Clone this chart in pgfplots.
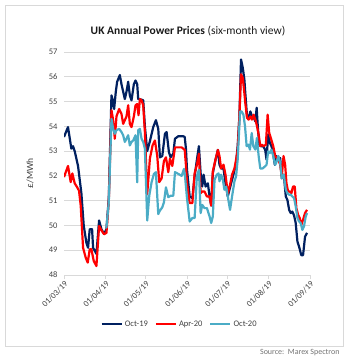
\documentclass[border=0pt]{standalone}
\usepackage{pgfplots}
\pgfplotsset{compat=1.18}
\usepackage{fontspec}
\setmainfont{Carlito}
\definecolor{navy}{HTML}{002060}
\definecolor{lblue}{HTML}{4BACC6}
\definecolor{txtgray}{HTML}{404040}
\definecolor{gridgray}{HTML}{D9D9D9}
\begin{document}
\begin{tikzpicture}[x=1pt,y=1pt]
\useasboundingbox (0,0) rectangle (350,361);
\draw[gridgray, line width=0.8pt] (5,15) rectangle (343,356);
\node[font=\fontsize{11.5}{13}\selectfont, text=black!90] at (188,330) {\textbf{UK Annual Power Prices} (six-month view)};
\node[font=\fontsize{8}{9}\selectfont, text=black!55, anchor=east] at (343,8) {Source:\ \ Marex Spectron};
\begin{axis}[
  at={(64pt,86pt)}, anchor=south west,
  scale only axis, width=246pt, height=223pt,
  xmin=0, xmax=184, ymin=48, ymax=57,
  ytick={48,49,...,57},
  xtick={0,31,61,92,122,153,184},
  xticklabels={01/03/19,01/04/19,01/05/19,01/06/19,01/07/19,01/08/19,01/09/19},
  /pgf/number format/assume math mode=true,
  ticklabel style={font=\fontsize{8.5}{10}\selectfont, text=txtgray},
  xticklabel style={rotate=45, anchor=north east, inner sep=1pt},
  yticklabel style={xshift=-3pt},
  axis x line*=bottom, axis y line*=left,
  x axis line style={draw=gridgray, line width=0.8pt},
  y axis line style={draw=none},
  xtick pos=lower, xtick align=outside,
  major x tick style={draw=gridgray, line width=0.8pt},
  major tick length=4pt,
  major y tick style={draw=none},
  ymajorgrids, grid style={gridgray, line width=0.8pt},
  ylabel={£/MWh},
  ylabel style={at={(axis description cs:-0.138,0.457)}, anchor=center, font=\fontsize{9.5}{11}\selectfont, text=txtgray},
  legend columns=3,
  legend style={at={(0.47,-0.22)}, anchor=center, draw=none, fill=none,
    font=\fontsize{8.5}{10}\selectfont, text=txtgray,
    /tikz/every even column/.append style={column sep=5pt}},
  legend image code/.code={\draw[#1] (0pt,0pt) -- (20pt,0pt);},
  every axis plot/.append style={line width=2.2pt, line join=round},
]
\addplot[navy] coordinates {
(0,53.57) (3,53.97) (5.5,53.1) (6.75,53.2) (8,53.0) (10.5,52.4) (13,51.3) (14.75,50.0)
(16.75,49.3) (18,49.1) (19.25,49.85) (21,49.85) (21.75,49.1) (24.25,48.85) (26.25,50.2)
(28,49.85) (30,49.65) (31.75,49.85) (33.5,51.1) (35.5,55.25) (36.75,55.0) (37.5,54.7)
(38.75,55.4) (39.75,55.8) (41.75,56.07) (43,55.7) (44.25,55.4) (45.5,55.1) (46.75,55.4)
(48,55.8) (49.25,55.25) (50.5,55.05) (52.25,55.7) (53.5,55.85) (54.75,55.7) (55.5,55.1)
(56.75,55.1) (59.25,55.05) (60.5,54.0) (62.25,53.0) (64.25,53.4) (66.75,53.97) (68.75,54.25)
(70.5,53.9) (71.75,52.75) (73.5,52.8) (75.5,53.7) (76.75,53.77) (78.5,52.95) (79.75,52.75)
(81.75,52.9) (83,53.5) (85.5,53.6) (89.25,53.6) (90.3,53.57) (91.2,53.1) (92,52.25)
(94,51.17) (96,51.1) (97.7,51.98) (99.4,52.65) (100.9,53.2) (102.2,52.1) (103.4,51.57)
(104.4,52.05) (105.9,51.57) (107.6,51.7) (108.9,51.17) (110.1,50.8) (111.3,52.1) (113.3,52.65)
(115.1,53.05) (116.3,52.45) (117.5,52.3) (119.3,52.3) (120.8,51.7) (122.5,51.17) (125,51.7)
(126.7,52.05) (128.7,52.5) (129.9,53.2) (131.2,54.4) (132.4,56.7) (133.7,56.37) (134.9,55.9)
(135.6,55.35) (136.9,54.4) (138.1,54.34) (139.4,54.6) (140.6,54.4) (141.6,54.4) (143.1,54.2)
(144.1,54.75) (145.1,53.87) (146.1,53.26) (147.3,53.2) (149,53.2) (150.5,53.05) (151.5,52.65)
(152.7,53.67) (154,53.33) (155.2,53.2) (156.5,52.86) (157.7,52.45) (158.9,52.8) (160.2,52.65)
(161.7,52.72) (162.9,51.9) (164.4,52.05) (165.9,51.17) (167.1,51.03) (168.4,50.63) (169.6,50.5)
(170.8,50.56) (172.1,50.4) (173.3,50.1) (174.6,49.35) (175.8,49.15) (177.5,48.8) (178.8,48.8)
(180.3,49.55) (181.8,49.7)
};
\addlegendentry{Oct-19}
\addplot[red] coordinates {
(0,51.95) (3,52.4) (5,51.75) (6.25,52.1) (8,51.7) (9.75,51.55) (11.25,51.4) (12.5,50.8)
(14.25,49.1) (16.25,48.7) (17.75,48.5) (19.25,49.04) (20.5,49.04) (22.25,48.57) (24.25,48.36)
(26.25,49.98) (28,49.8) (30,49.65) (31.75,49.7) (33.5,51.0) (35.5,54.65) (36.75,54.25)
(38,53.5) (39.25,54.4) (41.25,54.7) (43,54.5) (44.25,54.1) (45.5,54.25) (46.75,54.4)
(48,54.85) (49.25,54.1) (50.5,53.97) (52.25,54.4) (53.5,54.85) (54.75,54.9) (55.75,54.45)
(56.75,55.1) (58,55.05) (59.25,54.85) (60.5,53.77) (62.25,51.27) (64.25,52.7) (66.25,53.23)
(68,53.43) (69.75,52.8) (71.25,51.75) (73,51.9) (74.75,52.6) (76.25,52.75) (78,52.15)
(79.25,52.7) (81,52.4) (83,53.15) (85.5,53.15) (88,53.15) (90.3,53.05) (91.25,52.4)
(92,51.7) (94,50.9) (96,50.9) (97.7,52.1) (99.4,52.45) (100.9,52.9) (102.2,51.3)
(103.4,51.37) (105.1,51.37) (106.9,51.17) (108.9,51.17) (110.1,50.8) (111.3,52.18) (113.3,52.65)
(115.1,53.05) (116.3,52.8) (117.5,52.3) (119.3,52.45) (120.8,52.05) (122.5,51.3) (124.2,51.64)
(125.7,52.05) (127.5,52.3) (128.7,52.65) (129.9,53.05) (131.2,54.4) (132.4,56.1) (133.7,55.96)
(134.9,55.35) (135.6,54.95) (136.9,54.34) (138.1,54.27) (139.4,54.4) (140.6,54.27) (141.8,54.47)
(143.1,54.27) (144.1,54.07) (145.6,53.67) (146.8,53.2) (148,53.26) (149.3,53.2) (151,53.26)
(152.3,54.47) (153.5,53.73) (154.7,53.53) (156.5,53.2) (158,52.8) (159.2,52.72) (160.4,52.65)
(161.7,52.45) (162.9,51.98) (164.2,52.8) (165.4,52.45) (166.4,51.7) (167.6,51.37) (168.9,51.37)
(170.1,51.3) (171.3,51.57) (172.6,51.57) (173.8,50.7) (175.1,50.43) (176.3,50.3) (177.5,50.02)
(178.8,50.23) (180.3,50.5) (181.8,50.63)
};
\addlegendentry{Apr-20}
\addplot[lblue] coordinates {
(31,49.92) (31.75,49.92) (33.5,50.93) (35.5,54.3) (36.75,53.9) (38,53.7) (39.25,53.84)
(41.25,53.9) (43,53.77) (44.25,53.64) (45.5,53.37) (46.75,53.5) (48,53.64) (49.25,53.23)
(50.5,53.37) (51.75,53.43) (53.5,53.64) (54.75,51.74) (55.5,53.84) (56.75,53.9) (58,53.5)
(59.25,53.37) (60.5,53.1) (62.25,50.2) (63.75,51.2) (65.5,51.74) (67.25,52.08) (68.75,52.15)
(70.5,50.46) (71.75,50.6) (73.5,50.73) (74.75,50.93) (76.25,51.54) (78,51.14) (79.75,51.2)
(81.75,51.2) (83,52.15) (85.5,52.08) (88,52.0) (89.75,52.28) (90.5,52.0) (92,51.1)
(94,50.16) (96,50.3) (97.7,50.3) (99.4,51.98) (100.9,52.25) (102.2,50.5) (103.4,50.83)
(105.1,50.7) (106.9,50.7) (108.9,50.36) (110.1,50.1) (111.3,50.36) (112.6,51.84) (114.3,52.05)
(115.6,52.1) (116.3,51.78) (117.5,52.05) (118.8,51.84) (120,51.44) (121.3,51.57) (122.5,51.17)
(124.2,50.63) (125.7,51.17) (127.5,51.78) (128.7,51.98) (129.9,52.65) (131.7,54.6) (132.9,54.6)
(134.2,54.47) (135.4,54.0) (136.6,53.2) (137.9,53.26) (139.1,53.06) (140.4,53.73) (141.6,53.2)
(143.1,53.06) (144.3,53.53) (145.6,52.8) (146.8,52.3) (148.5,52.3) (150.3,52.38) (151.5,52.45)
(152.7,52.99) (154,52.92) (155.2,53.06) (156.5,52.8) (158,52.45) (159.2,52.59) (160.4,52.8)
(161.7,52.52) (162.9,51.91) (164.4,52.05) (165.9,51.44) (167.1,51.3) (168.4,51.24) (169.6,51.24)
(170.8,51.17) (172.1,51.1) (173.3,50.77) (174.6,50.3) (175.8,50.16) (177,50.1) (178.3,49.82)
(179.5,49.96) (180.8,50.36) (181.8,50.5)
};
\addlegendentry{Oct-20}
\end{axis}
\end{tikzpicture}
\end{document}
